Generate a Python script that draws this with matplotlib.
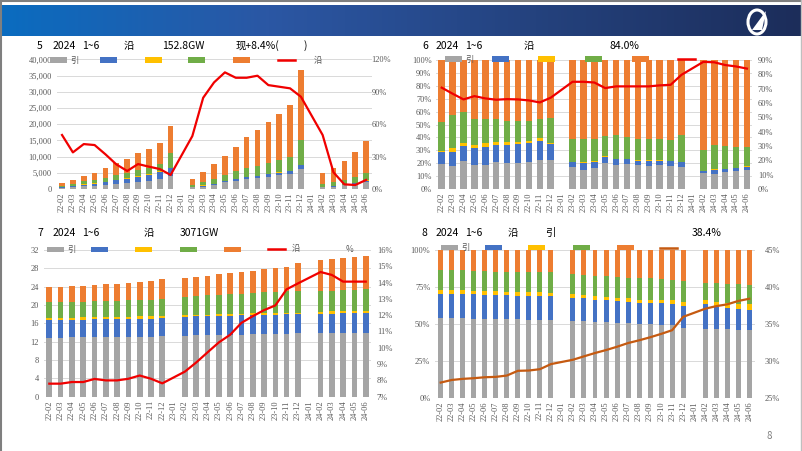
import numpy as np
import matplotlib
matplotlib.use("Agg")
import matplotlib.pyplot as plt
from matplotlib.patches import Rectangle, Ellipse, Polygon
from matplotlib.lines import Line2D

plt.rcParams['font.family'] = ['Noto Sans CJK SC', 'DejaVu Sans']

nan = np.nan
months = ["22-02", "22-03", "22-04", "22-05", "22-06", "22-07", "22-08", "22-09", "22-10", "22-11", "22-12",
          "23-01", "23-02", "23-03", "23-04", "23-05", "23-06", "23-07", "23-08", "23-09", "23-10", "23-11", "23-12",
          "24-01", "24-02", "24-03", "24-04", "24-05", "24-06"]

# ---- Chart 5: cumulative new capacity (MW) + growth
c5_gray = [390, 500, 860, 930, 1200, 1660, 1830, 2200, 2580, 3170, 4000, nan,
           520, 770, 1250, 2040, 2450, 3040, 3350, 3740, 4300, 4580, 6100, nan,
           620, 760, 1110, 1540, 2150]
c5_blue = [190, 300, 450, 680, 880, 1030, 1280, 1610, 1800, 2110, 2400, nan,
           130, 300, 370, 470, 560, 640, 630, 830, 760, 980, 1300, nan,
           90, 200, 240, 270, 450]
c5_yellow = [10, 70, 90, 100, 200, 210, 250, 230, 170, 280, 80, nan,
             10, 50, 50, 100, 40, 50, 50, 60, 70, 80, 100, nan,
             10, 10, 20, 60, 90]
c5_green = [460, 700, 940, 1030, 1220, 1420, 1460, 1790, 1970, 2040, 4500, nan,
            560, 950, 1370, 1570, 2420, 2720, 3020, 3540, 3910, 4270, 7600, nan,
            810, 1220, 1490, 1840, 2200]
c5_orange = [950, 1180, 1560, 2260, 2900, 3580, 4330, 5170, 5780, 6500, 8500, nan,
             1880, 3280, 4760, 6020, 7630, 9550, 11050, 12630, 13960, 15990, 21500, nan,
             3520, 4210, 5790, 7590, 10010]
c5_line = [50.0, 33.9, 41.6, 40.7, 32.1, 22.8, 16.7, 23.1, 20.7, 18.5, 13.0, nan,
           49.0, 84.5, 98.7, 108.0, 103.0, 103.0, 104.9, 96.2, 94.7, 93.2, 85.4, nan,
           50.0, 15.4, 4.3, 3.7, 8.4]

# ---- Chart 6: shares (%) + line (%)
c6_gray = [19.5, 18, 22, 18.5, 18.7, 21, 20, 20, 21, 22.5, 22.5, nan,
           16.7, 14.4, 16, 20, 18.7, 19, 18.5, 18, 18.7, 17.7, 17.4, nan,
           12.3, 11.8, 12.8, 13.6, 14.4]
c6_blue = [9.5, 11, 11.6, 13.5, 13.8, 13, 14, 14.6, 14.6, 15, 12.5, nan,
           4.1, 5.6, 4.8, 4.6, 4.3, 4, 3.5, 4, 3.3, 3.8, 3.6, nan,
           1.7, 3.2, 2.8, 2.4, 3]
c6_yellow = [0.5, 2.5, 2.4, 2, 3.1, 2.7, 2.7, 2.1, 1.4, 2.1, 0.4, nan,
             0.3, 1, 0.7, 1, 0.3, 0.3, 0.3, 0.3, 0.3, 0.3, 0.3, nan,
             0.2, 0.2, 0.2, 0.5, 0.6]
c6_green = [22.5, 25.5, 24, 20.6, 19, 17.9, 16.1, 16.3, 16, 14.5, 19.6, nan,
            17.6, 17.7, 17.5, 15.4, 18.5, 16.7, 16.4, 16.7, 16.7, 16.2, 20.5, nan,
            15.8, 18.8, 17.2, 16.3, 14.8]
c6_orange = [48, 43, 40, 45.4, 45.4, 45.4, 47.2, 47, 47, 45.9, 45, nan,
             61.3, 61.3, 61, 59, 58.2, 60, 61.3, 61, 61, 62, 58.2, nan,
             70, 66, 67, 67.2, 67.2]
c6_line = [70.7, 66.5, 62.5, 64.8, 63.2, 62.3, 62.7, 62.5, 61.8, 60.4, 63.7, nan,
           74.8, 74.8, 74.3, 70.4, 71.6, 71.6, 71.6, 71.6, 72.3, 72.7, 79.7, nan,
           88.7, 88.4, 86.5, 85.5, 84.0]

# ---- Chart 7: cumulative capacity + share
c7_gray = [12.9, 12.9, 12.95, 12.95, 13.0, 13.0, 13.05, 13.05, 13.1, 13.1, 13.2, nan,
           13.3, 13.35, 13.4, 13.45, 13.5, 13.55, 13.6, 13.65, 13.7, 13.75, 13.8, nan,
           13.85, 13.9, 13.95, 13.95, 14.0]
c7_blue = [3.8, 3.8, 3.8, 3.85, 3.85, 3.9, 3.9, 3.9, 3.95, 3.95, 4.0, nan,
           4.15, 4.15, 4.15, 4.15, 4.2, 4.2, 4.2, 4.2, 4.2, 4.2, 4.2, nan,
           4.2, 4.2, 4.2, 4.2, 4.2]
c7_yellow = [0.5, 0.5, 0.5, 0.5, 0.5, 0.5, 0.5, 0.5, 0.5, 0.5, 0.5, nan,
             0.35, 0.35, 0.35, 0.35, 0.35, 0.35, 0.35, 0.35, 0.35, 0.35, 0.35, nan,
             0.5, 0.5, 0.5, 0.5, 0.5]
c7_green = [3.4, 3.4, 3.45, 3.45, 3.5, 3.5, 3.5, 3.55, 3.55, 3.6, 3.6, nan,
            4.0, 4.1, 4.2, 4.3, 4.35, 4.4, 4.5, 4.55, 4.6, 4.7, 4.75, nan,
            4.5, 4.55, 4.6, 4.65, 4.7]
c7_orange = [3.3, 3.4, 3.4, 3.45, 3.55, 3.6, 3.65, 3.9, 3.9, 4.05, 4.3, nan,
             4.1, 4.25, 4.3, 4.45, 4.6, 4.8, 4.85, 5.05, 5.25, 5.3, 6.1, nan,
             6.75, 6.85, 6.95, 7.1, 7.3]
c7_line = [7.80, 7.80, 7.90, 7.90, 8.09, 8.00, 8.00, 8.10, 8.30, 8.10, 7.82, nan,
           8.54, 9.10, 9.72, 10.33, 10.80, 11.53, 11.94, 12.31, 12.60, 13.59, 13.95, nan,
           14.65, 14.47, 14.06, 14.06, 14.06]

# ---- Chart 8: shares (%) + line (%)
c8_gray = [54.1, 54.1, 53.9, 53.6, 53.6, 53.4, 53.2, 52.95, 52.7, 52.7, 52.3, nan,
           51.8, 51.6, 51.4, 51.1, 50.7, 50.5, 50.2, 49.8, 49.3, 48.9, 47.3, nan,
           46.8, 46.6, 46.4, 45.9, 45.5]
c8_blue = [16.4, 16.3, 16.3, 16.3, 16.2, 16.2, 16.2, 16.2, 16.2, 16.3, 16.3, nan,
           15.6, 15.6, 14.9, 14.8, 14.5, 14.5, 13.8, 14.0, 14.5, 14.6, 14.7, nan,
           16.4, 15.0, 14.5, 13.9, 13.8]
c8_yellow = [2.7, 2.6, 2.6, 2.5, 2.5, 2.5, 2.4, 2.4, 2.4, 2.3, 2.4, nan,
             2.5, 2.4, 2.4, 2.4, 2.4, 2.4, 2.4, 2.4, 2.4, 2.4, 2.5, nan,
             3.0, 3.2, 3.4, 3.6, 3.9]
c8_green = [13.3, 13.5, 13.7, 13.6, 13.6, 13.3, 13.6, 13.65, 13.7, 13.7, 13.8, nan,
            13.7, 13.5, 13.9, 14.4, 14.4, 13.9, 14.9, 14.6, 14.2, 14.1, 14.5, nan,
            11.3, 12.7, 12.9, 13.4, 13.1]
c8_orange = [13.5, 13.5, 13.5, 14.0, 14.1, 14.6, 14.6, 14.8, 15.0, 15.0, 15.2, nan,
             16.4, 16.9, 17.4, 17.3, 18.0, 18.7, 18.7, 19.2, 19.6, 20.0, 21.0, nan,
             22.5, 22.5, 22.8, 23.2, 23.7]
c8_line = [27.05, 27.4, 27.55, 27.64, 27.77, 27.82, 28.0, 28.64, 28.68, 28.86, 29.55, nan,
           30.14, 30.6, 31.05, 31.45, 31.9, 32.4, 32.77, 33.18, 33.64, 34.14, 35.95, nan,
           37.05, 37.4, 37.64, 38.1, 38.4]

GRAY, BLUE, YELLOW, GREEN, ORANGE = "#A5A5A5", "#4472C4", "#FFC000", "#70AD47", "#ED7D31"
RED, BROWN = "#F00000", "#C55A11"
W, H = 802, 451
TICKFONT = "Liberation Serif"
TC = "#595959"

fig = plt.figure(figsize=(W / 100, H / 100), dpi=100)
fig.patch.set_facecolor("white")


def fx(x):
    return x / W


def fy(y):
    return 1 - y / H


# header gradient band
hax = fig.add_axes([0, fy(36), 1, (36 - 5) / H])
grad = np.linspace(0, 1, 256)[None, :]
from matplotlib.colors import LinearSegmentedColormap
cmap = LinearSegmentedColormap.from_list("hdr", ["#0A6CC0", "#2B57A4", "#24427E", "#1C2D5A"])
hax.imshow(grad, aspect="auto", cmap=cmap, extent=[0, 1, 0, 1])
hax.set_axis_off()
# simple logo
fig.add_artist(Ellipse((fx(757), fy(22)), 18 / W, 24 / H, transform=fig.transFigure,
                       fill=False, ec="white", lw=2.2))
fig.add_artist(Polygon([(fx(752), fy(30)), (fx(766), fy(11)), (fx(762), fy(30))],
                       closed=True, transform=fig.transFigure, fc="white", ec="none"))
# page borders
fig.add_artist(Line2D([0, 1], [fy(0.8), fy(0.8)], transform=fig.transFigure, color="#7F7F7F", lw=1.5))
fig.add_artist(Line2D([fx(0.8), fx(0.8)], [0, 1], transform=fig.transFigure, color="#7F7F7F", lw=1.5))
fig.add_artist(Line2D([fx(801), fx(801)], [0, 1], transform=fig.transFigure, color="#BFBFBF", lw=1))


def make_axes(left, right, top, bottom):
    return fig.add_axes([fx(left), fy(bottom), (right - left) / W, (bottom - top) / H])


def stack(ax, series, colors, width):
    x = np.arange(len(months))
    base = np.zeros(len(months))
    for vals, c in zip(series, colors):
        v = np.array(vals, dtype=float)
        ax.bar(x, np.nan_to_num(v), width, bottom=base, color=c, lw=0, zorder=2)
        base = base + np.nan_to_num(v)


def style(ax, ax2, lpad, rpad):
    for a in (ax, ax2):
        for s in a.spines.values():
            s.set_visible(False)
    ax.set_xlim(-0.5, len(months) - 0.5)
    ax.set_xticks(np.arange(len(months)))
    ax.set_xticklabels(months, rotation=90, fontsize=6, family=TICKFONT, color=TC)
    ax.tick_params(axis="x", length=0, pad=2.5)
    ax.tick_params(axis="y", length=0, pad=lpad, labelsize=6, labelcolor=TC)
    ax2.tick_params(axis="y", length=0, pad=rpad, labelsize=6, labelcolor=TC)
    for lab in ax.get_yticklabels() + ax2.get_yticklabels():
        lab.set_family(TICKFONT)
    ax.grid(axis="y", color="#D9D9D9", lw=0.7, zorder=0)
    ax.set_axisbelow(True)
    ax.set_zorder(1)
    ax2.set_zorder(2)
    ax.patch.set_visible(False)


def line(ax2, vals, color, lw=1.6):
    x = np.arange(len(months))
    v = np.array(vals, dtype=float)
    m = ~np.isnan(v)
    ax2.plot(x[m], v[m], color=color, lw=lw, zorder=3, solid_joinstyle="round")


def legend(y, xs, colors, kinds, labels, extra=None):
    for x0, c, k, lab in zip(xs, colors, kinds, labels):
        if k == "bar":
            fig.add_artist(Rectangle((fx(x0), fy(y + 2.5)), 17 / W, 5 / H, transform=fig.transFigure,
                                     fc=c, ec="none", zorder=10))
        else:
            fig.add_artist(Line2D([fx(x0), fx(x0 + 17)], [fy(y), fy(y)], transform=fig.transFigure,
                                  color=c, lw=1.8, zorder=10))
        if lab:
            fig.text(fx(x0 + 20), fy(y), lab, fontsize=6, color=TC, va="center", ha="left", zorder=10)
    if extra:
        for ex, et in extra:
            fig.text(fx(ex), fy(y), et, fontsize=6, color=TC, va="center", ha="left", zorder=10)


def title(y, parts):
    for x0, t in parts:
        fig.text(fx(x0), fy(y), t, fontsize=7.5, color="#000000", va="center", ha="left")


cols = [GRAY, BLUE, YELLOW, GREEN, ORANGE]

# ---------- chart 5
ax = make_axes(56.6, 371.5, 59.4, 189)
ax2 = ax.twinx()
stack(ax, [c5_gray, c5_blue, c5_yellow, c5_green, c5_orange], cols, 0.52)
line(ax2, c5_line, RED)
ax.set_ylim(0, 40000)
ax.set_yticks(np.arange(0, 40001, 5000))
ax.set_yticklabels([f"{v:,}" for v in range(0, 40001, 5000)])
ax2.set_ylim(0, 120)
ax2.set_yticks([0, 30, 60, 90, 120])
ax2.set_yticklabels(["0%", "30%", "60%", "90%", "120%"])
style(ax, ax2, 3.5, 0)
title(45.7, [(37, "5"), (53, "2024"), (82, "1~6"), (124, "沿"), (162, "152.8GW"), (236, "现+8.4%("), (304, ")")])
legend(60, [50, 100, 145, 188, 233, 278], cols + [RED], ["bar"] * 5 + ["line"],
       ["引", "", "", "", "", ""], extra=[(314, "沿")])

# ---------- chart 6
ax = make_axes(436.25, 752.4, 60, 189)
ax2 = ax.twinx()
stack(ax, [c6_gray, c6_blue, c6_yellow, c6_green, c6_orange], cols, 0.6)
line(ax2, c6_line, RED)
ax.set_ylim(0, 100)
ax.set_yticks(np.arange(0, 101, 10))
ax.set_yticklabels([f"{v}%" for v in range(0, 101, 10)])
ax2.set_ylim(0, 90)
ax2.set_yticks(np.arange(0, 91, 10))
ax2.set_yticklabels([f"{v}%" for v in range(0, 91, 10)])
style(ax, ax2, 3.5, 4)
title(45.7, [(422, "6"), (436, "2024"), (465, "1~6"), (524, "沿"), (609, "84.0%")])
legend(59, [445, 492, 538, 585, 632, 678], cols + [RED], ["bar"] * 5 + ["line"],
       ["引", "", "", "", "", ""])

# ---------- chart 7
ax = make_axes(43.65, 371.4, 250, 396.7)
ax2 = ax.twinx()
stack(ax, [c7_gray, c7_blue, c7_yellow, c7_green, c7_orange], cols, 0.5)
line(ax2, c7_line, RED)
ax.set_ylim(0, 32)
ax.set_yticks(np.arange(0, 33, 4))
ax2.set_ylim(7, 16)
ax2.set_yticks(np.arange(7, 17, 1))
ax2.set_yticklabels([f"{v}%" for v in range(7, 17)])
style(ax, ax2, 3.5, 4)
title(233.3, [(37, "7"), (53, "2024"), (82, "1~6"), (144, "沿"), (180, "3071GW")])
legend(249, [47, 91, 135, 180, 224, 268], cols + [RED], ["bar"] * 5 + ["line"],
       ["引", "", "", "", "", ""], extra=[(292, "沿"), (346, "%")])

# ---------- chart 8
ax = make_axes(435.2, 754.8, 250, 397.7)
ax2 = ax.twinx()
stack(ax, [c8_gray, c8_blue, c8_yellow, c8_green, c8_orange], cols, 0.45)
line(ax2, c8_line, BROWN)
ax.set_ylim(0, 100)
ax.set_yticks([0, 25, 50, 75, 100])
ax.set_yticklabels(["0%", "25%", "50%", "75%", "100%"])
ax2.set_ylim(25, 45)
ax2.set_yticks([25, 30, 35, 40, 45])
ax2.set_yticklabels(["25%", "30%", "35%", "40%", "45%"])
style(ax, ax2, 3.5, 7)
title(233.3, [(422, "8"), (436, "2024"), (465, "1~6"), (508, "沿"), (545, "引"), (692, "38.4%")])
legend(247.7, [441, 485, 528, 573, 617, 660], cols + [BROWN], ["bar"] * 5 + ["line"],
       ["引", "", "", "", "", ""])

fig.text(fx(769), fy(436), "8", fontsize=7, color="#7F7F7F", ha="center", va="center")

fig.savefig("out.png", dpi=100, facecolor="white")
